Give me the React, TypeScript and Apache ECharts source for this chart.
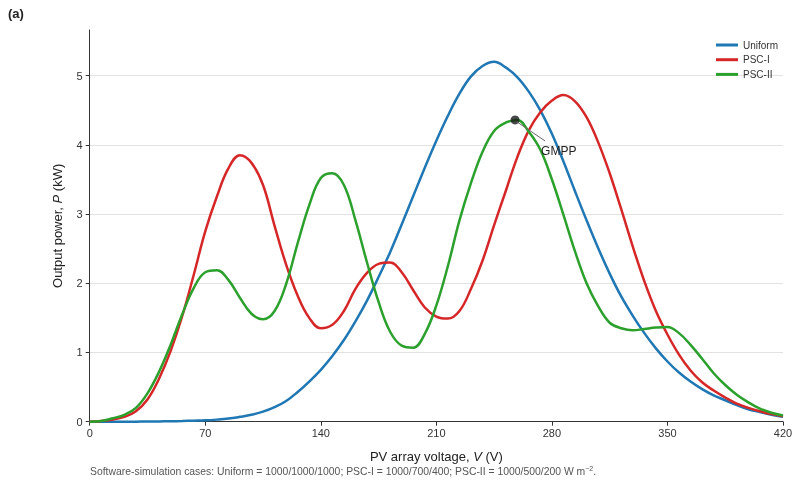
import React, { useEffect, useRef } from 'react';
import * as echarts from 'echarts';

// Voltage samples (V), shared by the three curves
const voltage = [0, 7, 14, 21, 28, 35, 42, 49, 56, 63, 70, 77, 84, 91, 98, 105, 112, 119, 126, 133, 140, 147, 154, 161, 168, 175, 182, 189, 196, 203, 210, 217, 224, 231, 238, 245, 252, 259, 266, 273, 280, 287, 294, 301, 308, 315, 322, 329, 336, 343, 350, 357, 364, 371, 378, 385, 392, 399, 406, 413, 420];

// Uniform irradiance, output power (kW)
const uniformP = [0, 0, 0, 0, 0.001, 0.002, 0.004, 0.006, 0.01, 0.015, 0.02, 0.03, 0.045, 0.07, 0.1, 0.145, 0.21, 0.3, 0.43, 0.58, 0.75, 0.95, 1.18, 1.45, 1.75, 2.09, 2.45, 2.85, 3.26, 3.67, 4.06, 4.42, 4.74, 4.99, 5.14, 5.2, 5.12, 4.98, 4.77, 4.5, 4.16, 3.76, 3.33, 2.91, 2.51, 2.14, 1.81, 1.53, 1.28, 1.06, 0.87, 0.71, 0.58, 0.47, 0.38, 0.31, 0.24, 0.18, 0.14, 0.1, 0.07];

// PSC-I, output power (kW)
const psc1P = [0, 0.01, 0.03, 0.07, 0.15, 0.32, 0.62, 1.02, 1.52, 2.12, 2.75, 3.25, 3.66, 3.85, 3.74, 3.42, 2.83, 2.27, 1.82, 1.5, 1.35, 1.4, 1.6, 1.92, 2.15, 2.28, 2.3, 2.16, 1.9, 1.65, 1.52, 1.49, 1.6, 1.92, 2.33, 2.84, 3.33, 3.82, 4.21, 4.47, 4.64, 4.72, 4.63, 4.4, 4.04, 3.59, 3.07, 2.53, 2.03, 1.6, 1.26, 0.97, 0.74, 0.57, 0.45, 0.35, 0.26, 0.2, 0.15, 0.11, 0.08];

// PSC-II, output power (kW)
const psc2P = [0, 0.01, 0.05, 0.1, 0.2, 0.41, 0.72, 1.11, 1.55, 1.93, 2.16, 2.19, 2.05, 1.79, 1.56, 1.48, 1.6, 1.99, 2.58, 3.13, 3.52, 3.59, 3.42, 2.91, 2.3, 1.73, 1.3, 1.1, 1.07, 1.27, 1.68, 2.25, 2.91, 3.45, 3.9, 4.2, 4.32, 4.36, 4.19, 3.93, 3.5, 2.99, 2.46, 2.0, 1.67, 1.43, 1.35, 1.32, 1.34, 1.36, 1.37, 1.28, 1.11, 0.91, 0.7, 0.53, 0.39, 0.28, 0.19, 0.13, 0.09];

const gmppPoint = [257.7, 4.36];
const seriesNames = ['Uniform', 'PSC-I', 'PSC-II'];
const yTickValues = [0, 1, 2, 3, 4, 5];

const FONT = '"Liberation Sans", Arial, Helvetica, sans-serif';

function pairs(v: number[], p: number[]) {
  return v.map((x, i) => [x, p[i]]);
}

export default function App() {
  const ref = useRef<HTMLDivElement>(null);
  useEffect(() => {
    const chart = echarts.init(ref.current!, null, { renderer: 'svg' });
    const lineSeries = (name: string, data: number[][], color: string) => ({
      name,
      type: 'line',
      data,
      smooth: 0.4,
      showSymbol: false,
      symbol: 'none',
      lineStyle: { color, width: 2.5 },
      itemStyle: { color },
      z: 2,
    });
    chart.setOption({
      animation: false,
      textStyle: { fontFamily: FONT },
      grid: { left: 89.7, right: 17, top: 30, bottom: 62.3, containLabel: false },
      legend: {
        data: seriesNames,
        orient: 'vertical',
        right: 17,
        top: 34,
        icon: 'rect',
        itemWidth: 22,
        itemHeight: 3,
        itemGap: 2.7,
        textStyle: { fontSize: 10, color: '#333', lineHeight: 12, fontFamily: FONT },
      },
      xAxis: {
        type: 'value',
        min: 0,
        max: 420,
        interval: 70,
        name: 'PV array voltage, {i|V} (V)',
        nameLocation: 'middle',
        nameGap: 28,
        nameTextStyle: {
          fontSize: 13,
          color: '#222',
          fontFamily: FONT,
          rich: { i: { fontSize: 13, fontStyle: 'italic', color: '#222', fontFamily: FONT } },
        },
        axisLine: { lineStyle: { color: '#333', width: 1 } },
        axisTick: { show: true, length: 4, lineStyle: { color: '#333' } },
        axisLabel: { fontSize: 11, color: '#333', margin: 6 },
        splitLine: { show: false },
      },
      yAxis: {
        type: 'value',
        min: 0,
        max: 5.66,
        interval: 1,
        name: 'Output power, {i|P} (kW)',
        nameLocation: 'middle',
        nameGap: 26,
        nameTextStyle: {
          fontSize: 13,
          color: '#222',
          fontFamily: FONT,
          rich: { i: { fontSize: 13, fontStyle: 'italic', color: '#222', fontFamily: FONT } },
        },
        axisLine: { show: true, lineStyle: { color: '#333', width: 1 } },
        axisTick: { show: true, length: 4, lineStyle: { color: '#333' }, customValues: yTickValues },
        axisLabel: { fontSize: 11, color: '#333', margin: 7, customValues: yTickValues },
        splitLine: { show: true, showMinLine: false, lineStyle: { color: '#e2e2e2', width: 1 } },
      },
      series: [
        lineSeries(seriesNames[0], pairs(voltage, uniformP), '#1f77b4'),
        lineSeries(seriesNames[1], pairs(voltage, psc1P), '#d62728'),
        lineSeries(seriesNames[2], pairs(voltage, psc2P), '#2ca02c'),
        {
          name: 'GMPP',
          type: 'scatter',
          data: [gmppPoint],
          symbolSize: 9,
          itemStyle: { color: '#1a1a1a' },
          z: 5,
        },
      ],
    });
    const [px, py] = chart.convertToPixel({ gridIndex: 0 }, gmppPoint) as number[];
    chart.setOption({
      graphic: [
        {
          type: 'line',
          shape: { x1: px + 2, y1: py + 2, x2: px + 30, y2: py + 21 },
          style: { stroke: '#666', lineWidth: 1 },
          z: 10,
        },
        {
          type: 'text',
          x: px + 26,
          y: py + 31,
          style: { text: 'GMPP', fontSize: 12, fill: '#222', fontFamily: FONT, verticalAlign: 'middle' },
          z: 10,
        },
        {
          type: 'text',
          x: 8,
          y: 13,
          style: { text: '(a)', fontSize: 13, fontWeight: 'bold', fill: '#222', fontFamily: FONT, verticalAlign: 'middle' },
        },
        {
          type: 'text',
          x: 90,
          y: 471,
          style: {
            text: 'Software-simulation cases: Uniform = 1000/1000/1000; PSC-I = 1000/700/400; PSC-II = 1000/500/200 W m{sup|\u22122}.',
            fontSize: 10.4,
            fill: '#555',
            fontFamily: FONT,
            verticalAlign: 'middle',
            rich: {
              sup: { fontSize: 7, fill: '#555', fontFamily: FONT, verticalAlign: 'top', lineHeight: 12 },
            },
          },
        },
      ],
    });
    return () => chart.dispose();
  }, []);
  return <div ref={ref} style={{ position: 'fixed', left: 0, top: 0, width: 800, height: 484 }} />;
}
